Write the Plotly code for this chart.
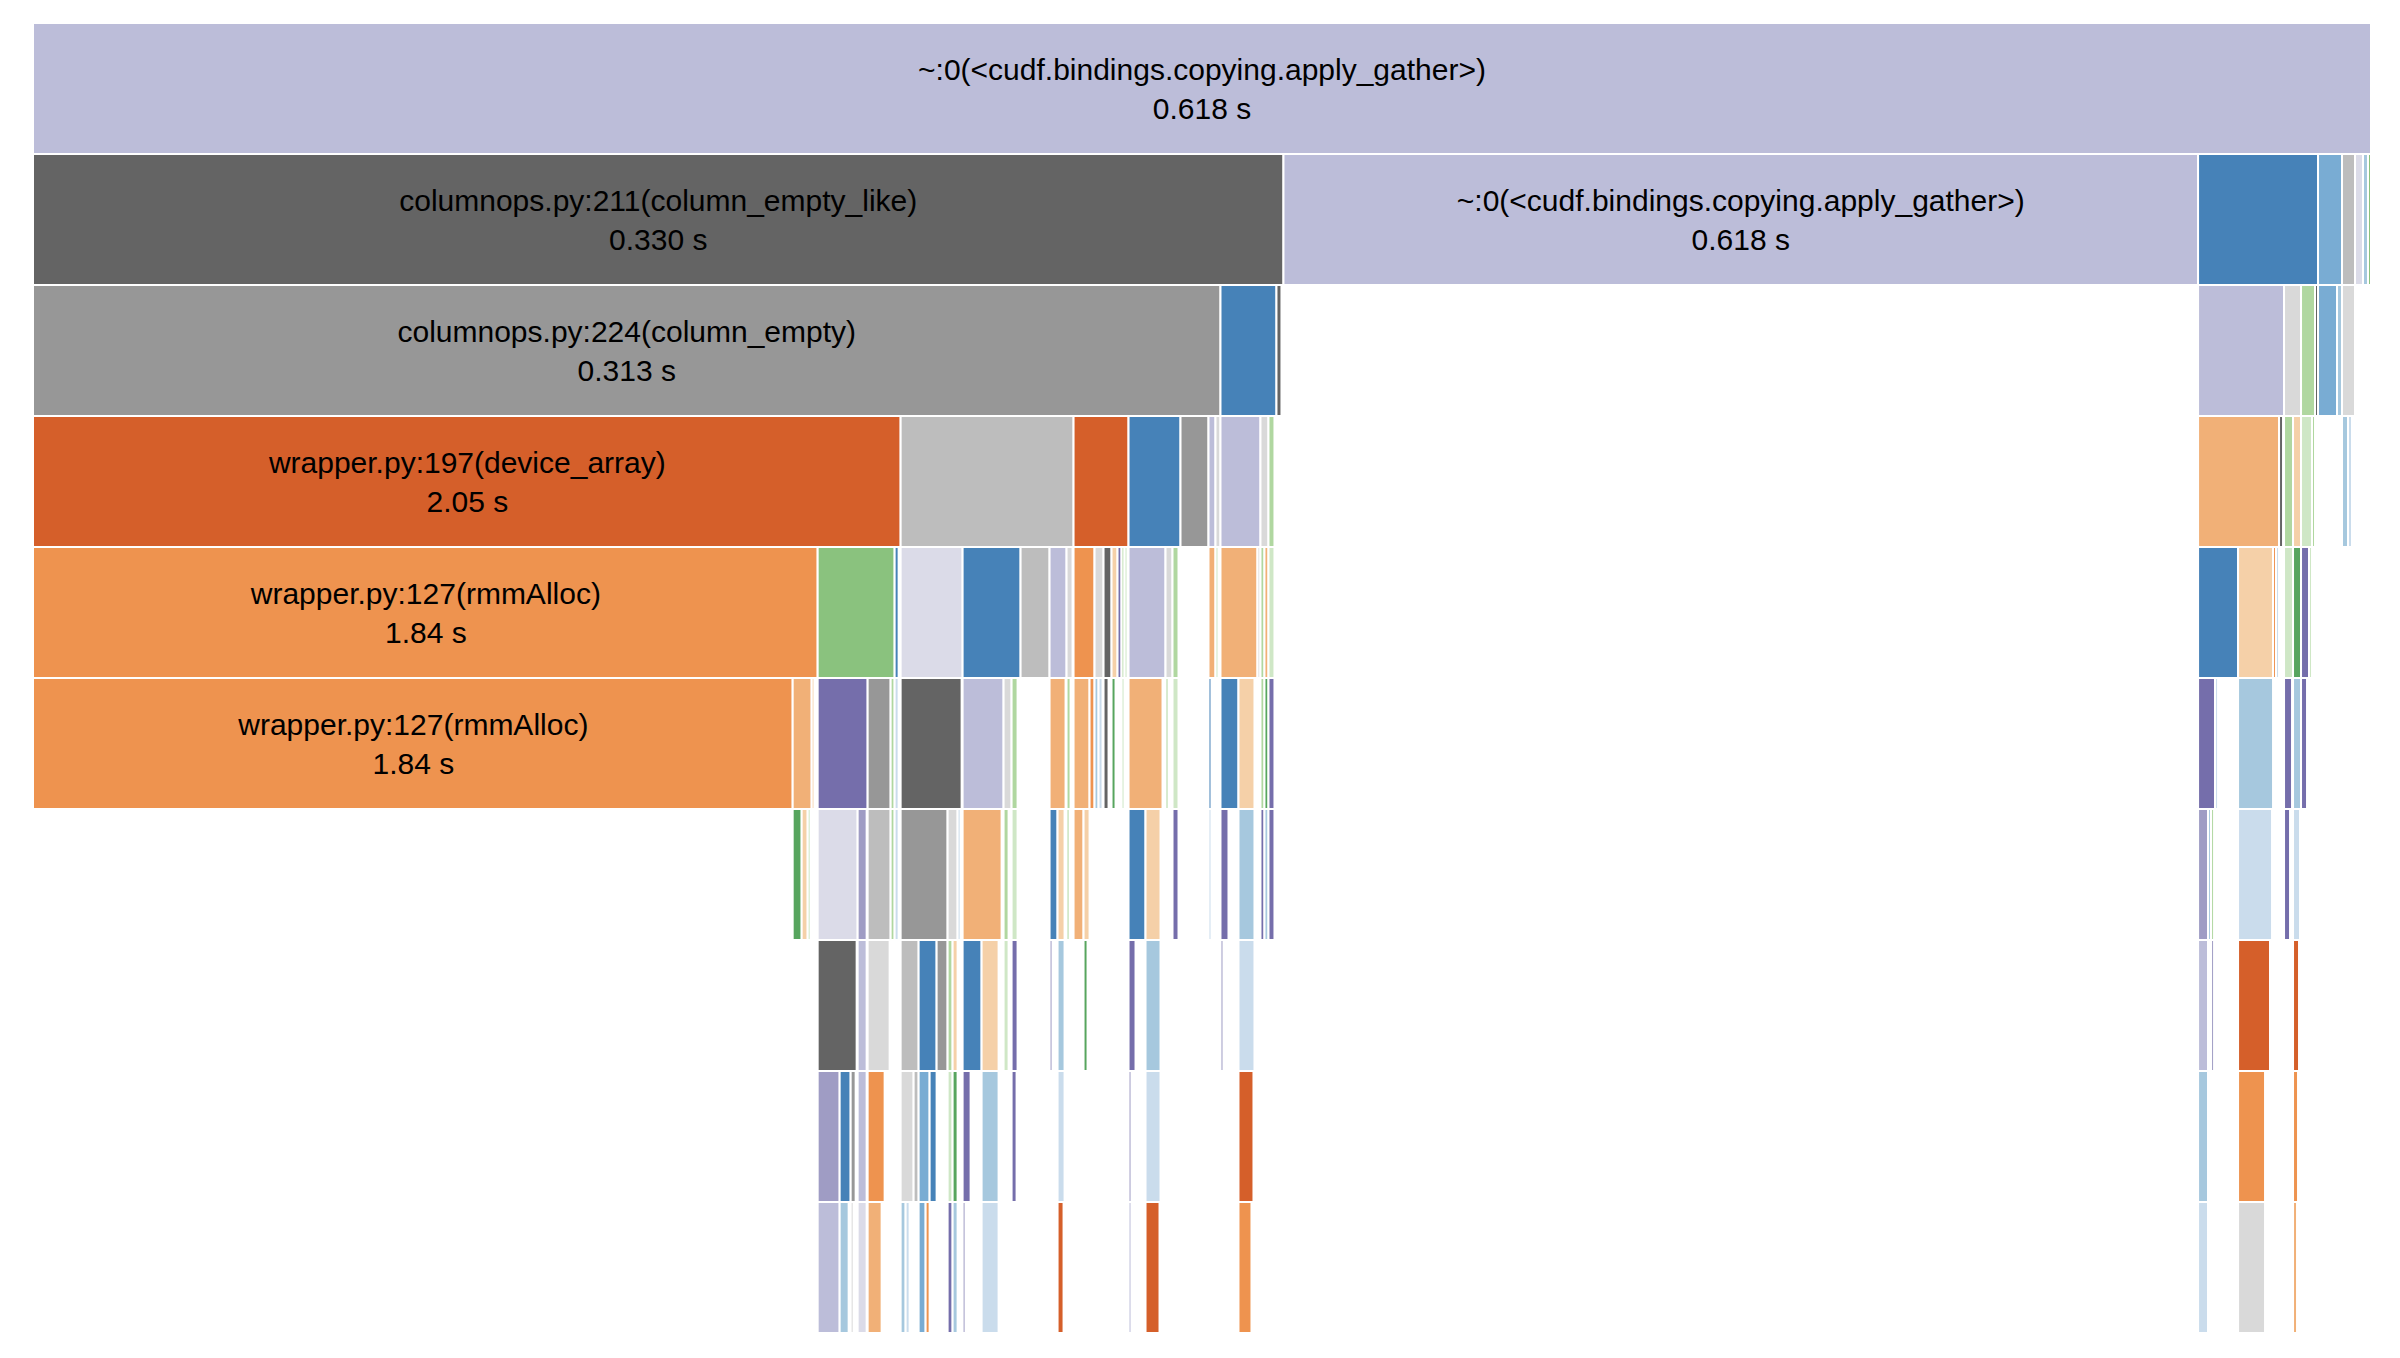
import plotly.graph_objects as go

# shades used by the profiler (category20c, as they render on screen)
SHADES = {
    "B1": "#4682b8", "B2": "#79acd3", "B3": "#a6c8de", "B4": "#cadcec",
    "O1": "#d55f2a", "O2": "#ee934f", "O3": "#f1b077", "O4": "#f5d0a8",
    "G1": "#57a55e", "G2": "#8ac27e", "G3": "#b0d7a0", "G4": "#cfe7c6",
    "P1": "#756eab", "P2": "#9f9cc4", "P3": "#bcbdd9", "P4": "#dbdbe8",
    "K1": "#646464", "K2": "#979797", "K3": "#bdbdbd", "K4": "#d9d9d9",
}

ROOT = ("r", 2339, "P3")

# (parent id, cumulative weight, shade) for every call, one list per depth
LEVEL1 = [("r", 1251, "K1"), ("r", 915, "P3"), ("r", 120, "B1"), ("r", 24, "B2"),
          ("r", 13, "K3"), ("r", 8, "P4"), ("r", 5, "B3"), ("r", 3, "G2")]

LEVEL2 = [("r.0", 1188, "K2"), ("r.0", 56, "B1"), ("r.0", 5, "K1"),
          ("r.2", 86, "P3"), ("r.2", 17, "K4"), ("r.2", 14, "G3"), ("r.2", 3, "K1"),
          ("r.3", 19, "B2"), ("r.3", 5, "B3"),
          ("r.4", 13, "K4")]

LEVEL3 = [("r.0.0", 868, "O1"), ("r.0.0", 173, "K3"), ("r.0.0", 55, "O1"), ("r.0.0", 52, "B1"),
          ("r.0.0", 28, "K2"), ("r.0.0", 7, "P3"), ("r.0.0", 5, "K4"),
          ("r.0.1", 40, "P3"), ("r.0.1", 8, "K4"), ("r.0.1", 6, "G3"),
          ("r.2.0", 81, "O3"), ("r.2.0", 4, "K1"),
          ("r.2.1", 9, "G3"), ("r.2.1", 8, "O4"),
          ("r.2.2", 11, "G4"), ("r.2.2", 3, "G3"),
          ("r.4.0", 6, "B3"), ("r.4.0", 4, "B4")]

LEVEL4 = [("r.0.0.0", 785, "O2"), ("r.0.0.0", 77, "G2"), ("r.0.0.0", 4, "B1"),
          ("r.0.0.1", 62, "P4"), ("r.0.0.1", 58, "B1"), ("r.0.0.1", 29, "K3"),
          ("r.0.0.1", 17, "P3"), ("r.0.0.1", 6, "K4"),
          ("r.0.0.2", 21, "O2"), ("r.0.0.2", 9, "K4"), ("r.0.0.2", 8, "K1"), ("r.0.0.2", 6, "O4"),
          ("r.0.0.2", 4, "P1"), ("r.0.0.2", 3, "G3"), ("r.0.0.2", 3, "G4"),
          ("r.0.0.3", 37, "P3"), ("r.0.0.3", 7, "K4"), ("r.0.0.3", 6, "G3"),
          ("r.0.0.5", 7, "O3"),
          ("r.0.0.6", 3, "G4"),
          ("r.0.1.0", 37, "O3"), ("r.0.1.0", 3, "K4"),
          ("r.0.1.1", 4, "G3"), ("r.0.1.1", 4, "O3"),
          ("r.0.1.2", 6, "G4"),
          ("r.2.0.0", 40, "B1"), ("r.2.0.0", 35, "O4"), ("r.2.0.0", 3, "O2"), ("r.2.0.0", 3, "B4"),
          ("r.2.1.0", 9, "G4"),
          ("r.2.1.1", 8, "G1"),
          ("r.2.2.0", 8, "P1"), ("r.2.2.0", 3, "G4")]

LEVEL5 = [("r.0.0.0.0", 760, "O2"), ("r.0.0.0.0", 19, "O3"), ("r.0.0.0.0", 3, "O4"), ("r.0.0.0.0", 2, "G4"),
          ("r.0.0.0.1", 50, "P1"), ("r.0.0.0.1", 23, "K2"), ("r.0.0.0.1", 4, "G3"),
          ("r.0.0.0.2", 4, "B4"),
          ("r.0.0.1.0", 61, "K1"),
          ("r.0.0.1.1", 41, "P3"), ("r.0.0.1.1", 8, "K4"), ("r.0.0.1.1", 6, "G3"),
          ("r.0.0.1.3", 16, "O3"),
          ("r.0.0.1.4", 4, "G3"),
          ("r.0.0.2.0", 16, "O3"), ("r.0.0.2.0", 5, "O2"),
          ("r.0.0.2.1", 4, "B3"), ("r.0.0.2.1", 4, "B4"),
          ("r.0.0.2.2", 5, "K1"),
          ("r.0.0.2.3", 4, "G1"),
          ("r.0.0.2.5", 3, "G4"),
          ("r.0.0.3.0", 34, "O3"),
          ("r.0.0.3.1", 3, "G3"),
          ("r.0.0.3.2", 6, "G4"),
          ("r.0.0.5.0", 3, "B1"),
          ("r.0.1.0.0", 18, "B1"), ("r.0.1.0.0", 16, "O4"),
          ("r.0.1.1.0", 4, "G3"),
          ("r.0.1.1.1", 4, "G1"),
          ("r.0.1.2.0", 6, "P1"),
          ("r.2.0.0.0", 17, "P1"), ("r.2.0.0.0", 3, "B4"),
          ("r.2.0.0.1", 35, "B3"),
          ("r.2.0.0.3", 2, "B4"),
          ("r.2.1.0.0", 8, "P1"),
          ("r.2.1.1.0", 8, "B3"),
          ("r.2.2.0.0", 6, "P1")]

LEVEL6 = [("r.0.0.0.0.1", 9, "G1"), ("r.0.0.0.0.1", 6, "O4"), ("r.0.0.0.0.1", 3, "G4"),
          ("r.0.0.0.1.0", 40, "P4"), ("r.0.0.0.1.0", 9, "P2"),
          ("r.0.0.0.1.1", 23, "K3"),
          ("r.0.0.0.1.2", 4, "G3"),
          ("r.0.0.0.2.0", 4, "B4"),
          ("r.0.0.1.0.0", 47, "K2"), ("r.0.0.1.0.0", 10, "K4"), ("r.0.0.1.0.0", 3, "B4"),
          ("r.0.0.1.1.0", 39, "O3"),
          ("r.0.0.1.1.1", 5, "G3"),
          ("r.0.0.1.1.2", 6, "G4"),
          ("r.0.0.1.3.0", 8, "B1"), ("r.0.0.1.3.0", 7, "O4"),
          ("r.0.0.1.4.0", 3, "G3"),
          ("r.0.0.2.0.0", 10, "O3"), ("r.0.0.2.0.0", 6, "O4"),
          ("r.0.0.3.0.0", 17, "B1"), ("r.0.0.3.0.0", 15, "O4"),
          ("r.0.0.3.1.0", 2, "G3"),
          ("r.0.0.3.2.0", 6, "P1"),
          ("r.0.0.5.0.0", 3, "B4"),
          ("r.0.1.0.0.0", 8, "P1"),
          ("r.0.1.0.0.1", 16, "B3"),
          ("r.0.1.1.0.0", 4, "P1"),
          ("r.0.1.1.1.0", 4, "B3"),
          ("r.0.1.2.0.0", 6, "P1"),
          ("r.2.0.0.0.0", 10, "P2"), ("r.2.0.0.0.0", 3, "B3"), ("r.2.0.0.0.0", 3, "G3"),
          ("r.2.0.0.1.0", 34, "B4"),
          ("r.2.1.0.0.0", 6, "P1"),
          ("r.2.1.1.0.0", 7, "B4")]

LEVEL7 = [("r.0.0.0.1.0.0", 39, "K1"),
          ("r.0.0.0.1.0.1", 9, "P3"),
          ("r.0.0.0.1.1.0", 22, "K4"),
          ("r.0.0.1.0.0.0", 18, "K3"), ("r.0.0.1.0.0.0", 18, "B1"), ("r.0.0.1.0.0.0", 11, "K2"),
          ("r.0.0.1.0.0.1", 5, "G3"), ("r.0.0.1.0.0.1", 5, "O4"),
          ("r.0.0.1.1.0.0", 19, "B1"), ("r.0.0.1.1.0.0", 17, "O4"),
          ("r.0.0.1.1.1.0", 5, "G4"),
          ("r.0.0.1.1.2.0", 6, "P1"),
          ("r.0.0.1.3.0.0", 3, "P2"),
          ("r.0.0.1.3.0.1", 7, "B3"),
          ("r.0.0.2.0.0.1", 4, "G1"),
          ("r.0.0.3.0.0.0", 7, "P1"),
          ("r.0.0.3.0.0.1", 15, "B3"),
          ("r.0.1.0.0.0.0", 3, "P2"),
          ("r.0.1.0.0.1.0", 16, "B4"),
          ("r.2.0.0.0.0.0", 10, "P3"),
          ("r.2.0.0.0.0.1", 2, "B3"),
          ("r.2.0.0.0.0.2", 3, "P2"),
          ("r.2.0.0.1.0.0", 32, "O1"), ("r.2.0.0.1.0.0", 2, "G3"),
          ("r.2.1.1.0.0.0", 6, "O1")]

LEVEL8 = [("r.0.0.0.1.0.0.0", 22, "P2"), ("r.0.0.0.1.0.0.0", 11, "B1"), ("r.0.0.0.1.0.0.0", 5, "K2"),
          ("r.0.0.0.1.0.1.0", 9, "P3"),
          ("r.0.0.0.1.1.0.0", 17, "O2"),
          ("r.0.0.1.0.0.0.0", 13, "K4"), ("r.0.0.1.0.0.0.0", 5, "K3"),
          ("r.0.0.1.0.0.0.1", 11, "B2"), ("r.0.0.1.0.0.0.1", 7, "B1"),
          ("r.0.0.1.0.0.1.0", 5, "G4"),
          ("r.0.0.1.0.0.1.1", 5, "G1"),
          ("r.0.0.1.1.0.0.0", 8, "P1"),
          ("r.0.0.1.1.0.0.1", 17, "B3"),
          ("r.0.0.1.1.2.0.0", 5, "P1"),
          ("r.0.0.1.3.0.1.0", 7, "B4"),
          ("r.0.0.3.0.0.0.0", 3, "P2"),
          ("r.0.0.3.0.0.1.0", 15, "B4"),
          ("r.0.1.0.0.1.0.0", 15, "O1"),
          ("r.2.0.0.0.0.0.0", 10, "B3"),
          ("r.2.0.0.0.0.1.0", 2, "O1"),
          ("r.2.0.0.0.0.2.0", 2, "O2"),
          ("r.2.0.0.1.0.0.0", 27, "O2"),
          ("r.2.1.1.0.0.0.0", 5, "O2")]

LEVEL9 = [("r.0.0.0.1.0.0.0.0", 22, "P3"),
          ("r.0.0.0.1.0.0.0.1", 9, "B3"),
          ("r.0.0.0.1.0.0.0.2", 3, "K4"),
          ("r.0.0.0.1.0.1.0.0", 9, "P4"),
          ("r.0.0.0.1.1.0.0.0", 14, "O3"),
          ("r.0.0.1.0.0.0.0.0", 5, "B3"), ("r.0.0.1.0.0.0.0.0", 4, "B4"),
          ("r.0.0.1.0.0.0.1.0", 7, "B2"), ("r.0.0.1.0.0.0.1.0", 4, "O2"),
          ("r.0.0.1.0.0.1.0.0", 5, "P1"),
          ("r.0.0.1.0.0.1.1.0", 5, "B3"),
          ("r.0.0.1.1.0.0.0.0", 3, "P2"),
          ("r.0.0.1.1.0.0.1.0", 17, "B4"),
          ("r.0.0.1.3.0.1.0.0", 6, "O1"),
          ("r.0.0.3.0.0.0.0.0", 3, "P3"),
          ("r.0.0.3.0.0.1.0.0", 14, "O1"),
          ("r.0.1.0.0.1.0.0.0", 13, "O2"),
          ("r.2.0.0.0.0.0.0.0", 10, "B4"),
          ("r.2.0.0.0.0.1.0.0", 2, "O3"),
          ("r.2.0.0.1.0.0.0.0", 27, "K4"),
          ("r.2.1.1.0.0.0.0.0", 4, "O3")]

# only the wide boxes carry a caption
CAPTIONS = {
    "r": "~:0(<cudf.bindings.copying.apply_gather>)<br>0.618 s",
    "r.0": "columnops.py:211(column_empty_like)<br>0.330 s",
    "r.1": "~:0(<cudf.bindings.copying.apply_gather>)<br>0.618 s",
    "r.0.0": "columnops.py:224(column_empty)<br>0.313 s",
    "r.0.0.0": "wrapper.py:197(device_array)<br>2.05 s",
    "r.0.0.0.0": "wrapper.py:127(rmmAlloc)<br>1.84 s",
    "r.0.0.0.0.0": "wrapper.py:127(rmmAlloc)<br>1.84 s",
}

ids, parents, values, colors = [ROOT[0]], [""], [ROOT[1]], [SHADES[ROOT[2]]]
for level in [LEVEL1, LEVEL2, LEVEL3, LEVEL4, LEVEL5, LEVEL6, LEVEL7, LEVEL8, LEVEL9]:
    count = {}
    for parent, weight, shade in level:
        n = count.get(parent, 0)
        count[parent] = n + 1
        ids.append(f"{parent}.{n}")
        parents.append(parent)
        values.append(weight)
        colors.append(SHADES[shade])

texts = [CAPTIONS.get(i, "") for i in ids]

label_font = dict(family="Liberation Sans, Arial, sans-serif", size=30, color="black")

fig = go.Figure(go.Icicle(
    ids=ids, labels=ids, parents=parents, values=values,
    branchvalues="total", sort=False,
    text=texts, textinfo="text", textposition="middle center",
    textfont=label_font, insidetextfont=label_font, outsidetextfont=label_font,
    marker=dict(colors=colors, line=dict(color="white", width=2)),
    leaf=dict(opacity=1),
    tiling=dict(orientation="v"),
    pathbar=dict(visible=False),
    hoverinfo="skip",
))

fig.update_layout(
    width=2400, height=1358,
    margin=dict(l=33, r=29, t=23, b=25),
    paper_bgcolor="white",
    font=dict(family="Liberation Sans, Arial, sans-serif"),
)

fig.write_html("out.html", config={"displayModeBar": False},
               post_script="document.body.style.margin='0';")
